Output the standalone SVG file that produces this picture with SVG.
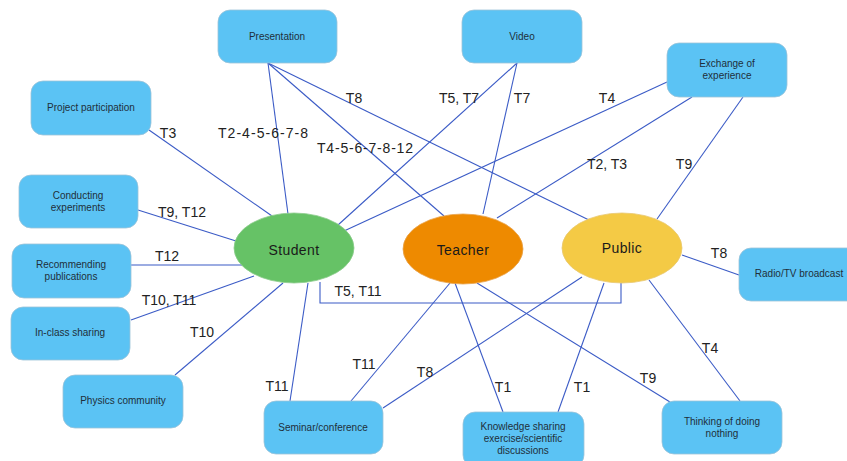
<svg xmlns="http://www.w3.org/2000/svg" width="847" height="461" viewBox="0 0 847 461">
  <style>
    .box { fill: #5BC3F4; stroke: #9CC3D8; stroke-width: 0.8; }
    .btxt { font-family: "Liberation Sans", Arial, sans-serif; font-size: 10px; fill: #1F2F3A; text-anchor: middle; }
    .etxt { font-family: "Liberation Sans", Arial, sans-serif; font-size: 14px; fill: #1A1A1A; text-anchor: middle; letter-spacing: 0.4px; }
    .edge { fill: none; stroke: #3B5BC6; stroke-width: 1.1; }
    .lbl { font-family: "Liberation Sans", Arial, sans-serif; font-size: 14px; fill: #222; text-anchor: middle; }
  </style>
  <rect width="847" height="461" fill="#FFFFFF"/>

  <!-- connectors -->
  <g id="connectors">
    <!-- from Presentation -->
    <line class="edge" x1="268" y1="63" x2="288" y2="214"/>
    <line class="edge" x1="268" y1="63" x2="444" y2="216"/>
    <line class="edge" x1="268" y1="63" x2="591" y2="221"/>
    <!-- from Video -->
    <line class="edge" x1="517" y1="63" x2="338" y2="225"/>
    <line class="edge" x1="517" y1="63" x2="483" y2="214"/>
    <!-- from Exchange of experience -->
    <line class="edge" x1="667" y1="82" x2="344" y2="231"/>
    <line class="edge" x1="692" y1="97" x2="497" y2="218"/>
    <line class="edge" x1="743" y1="97" x2="657" y2="219"/>
    <!-- left-side activities to Student -->
    <line class="edge" x1="149" y1="130" x2="272" y2="216"/>
    <line class="edge" x1="138" y1="210" x2="236" y2="241"/>
    <line class="edge" x1="131" y1="265" x2="242" y2="265"/>
    <line class="edge" x1="131" y1="320" x2="254" y2="276"/>
    <line class="edge" x1="175" y1="375" x2="283" y2="283"/>
    <line class="edge" x1="290" y1="401" x2="308" y2="283"/>
    <!-- Student to Public (elbow) -->
    <polyline class="edge" points="320,282 320,303 621,303 621,283"/>
    <!-- bottom activities -->
    <line class="edge" x1="450" y1="283" x2="351" y2="401"/>
    <line class="edge" x1="582" y1="277" x2="383" y2="408"/>
    <line class="edge" x1="455" y1="283" x2="503" y2="412"/>
    <line class="edge" x1="604" y1="283" x2="558" y2="412"/>
    <line class="edge" x1="477" y1="283" x2="670" y2="402"/>
    <line class="edge" x1="649" y1="280" x2="740" y2="401"/>
    <line class="edge" x1="682" y1="255" x2="739" y2="275"/>

    <!-- connector labels -->
    <text class="lbl" x="263" y="138" textLength="90" lengthAdjust="spacing">T2-4-5-6-7-8</text>
    <text class="lbl" x="365" y="153" textLength="96" lengthAdjust="spacing">T4-5-6-7-8-12</text>
    <text class="lbl" x="354" y="103">T8</text>
    <text class="lbl" x="168" y="138">T3</text>
    <text class="lbl" x="182" y="217">T9, T12</text>
    <text class="lbl" x="459" y="103">T5, T7</text>
    <text class="lbl" x="522" y="103">T7</text>
    <text class="lbl" x="607" y="103">T4</text>
    <text class="lbl" x="607" y="169">T2, T3</text>
    <text class="lbl" x="684" y="169">T9</text>
    <text class="lbl" x="167" y="261">T12</text>
    <text class="lbl" x="169" y="305">T10, T11</text>
    <text class="lbl" x="202" y="337">T10</text>
    <text class="lbl" x="277" y="391">T11</text>
    <text class="lbl" x="358" y="296">T5, T11</text>
    <text class="lbl" x="364" y="369">T11</text>
    <text class="lbl" x="425" y="377">T8</text>
    <text class="lbl" x="503" y="392">T1</text>
    <text class="lbl" x="582" y="392">T1</text>
    <text class="lbl" x="648" y="383">T9</text>
    <text class="lbl" x="710" y="353">T4</text>
    <text class="lbl" x="719" y="258">T8</text>
  </g>

  <!-- actors -->
  <g id="student">
    <ellipse cx="294" cy="248" rx="60" ry="35" fill="#66C266" stroke="#8CCB8C" stroke-width="0.8"/>
    <text class="etxt" x="294" y="255">Student</text>
  </g>
  <g id="teacher">
    <ellipse cx="463" cy="249" rx="60" ry="35" fill="#EE8A00" stroke="#E9A24A" stroke-width="0.8"/>
    <text class="etxt" x="463" y="255">Teacher</text>
  </g>
  <g id="public">
    <ellipse cx="622" cy="248" rx="60" ry="35" fill="#F4CA45" stroke="#E8C870" stroke-width="0.8"/>
    <text class="etxt" x="622" y="253">Public</text>
  </g>

  <!-- activities -->
  <g id="presentation">
    <rect class="box" x="218" y="10" width="119" height="53" rx="12"/>
    <text class="btxt" x="277" y="40">Presentation</text>
  </g>
  <g id="video">
    <rect class="box" x="462" y="10" width="120" height="53" rx="12"/>
    <text class="btxt" x="522" y="40">Video</text>
  </g>
  <g id="exchange">
    <rect class="box" x="667" y="43" width="120" height="54" rx="12"/>
    <text class="btxt" x="727" y="67">Exchange of</text>
    <text class="btxt" x="727" y="79">experience</text>
  </g>
  <g id="project">
    <rect class="box" x="31" y="81" width="120" height="54" rx="12"/>
    <text class="btxt" x="91" y="111">Project participation</text>
  </g>
  <g id="experiments">
    <rect class="box" x="19" y="175" width="119" height="53" rx="12"/>
    <text class="btxt" x="78" y="199">Conducting</text>
    <text class="btxt" x="78" y="211">experiments</text>
  </g>
  <g id="publications">
    <rect class="box" x="12" y="244" width="119" height="54" rx="12"/>
    <text class="btxt" x="71" y="268">Recommending</text>
    <text class="btxt" x="71" y="280">publications</text>
  </g>
  <g id="inclass">
    <rect class="box" x="11" y="307" width="119" height="53" rx="12"/>
    <text class="btxt" x="70" y="336">In-class sharing</text>
  </g>
  <g id="community">
    <rect class="box" x="63" y="375" width="120" height="53" rx="12"/>
    <text class="btxt" x="123" y="404">Physics community</text>
  </g>
  <g id="seminar">
    <rect class="box" x="264" y="401" width="119" height="53" rx="12"/>
    <text class="btxt" x="323" y="431">Seminar/conference</text>
  </g>
  <g id="knowledge">
    <rect class="box" x="463" y="412" width="121" height="55" rx="12"/>
    <text class="btxt" x="523" y="430">Knowledge sharing</text>
    <text class="btxt" x="523" y="442">exercise/scientific</text>
    <text class="btxt" x="523" y="454">discussions</text>
  </g>
  <g id="nothing">
    <rect class="box" x="662" y="401" width="120" height="53" rx="12"/>
    <text class="btxt" x="722" y="425">Thinking of doing</text>
    <text class="btxt" x="722" y="437">nothing</text>
  </g>
  <g id="broadcast">
    <rect class="box" x="739" y="248" width="120" height="53" rx="12"/>
    <text class="btxt" x="799" y="277">Radio/TV broadcast</text>
  </g>
</svg>
